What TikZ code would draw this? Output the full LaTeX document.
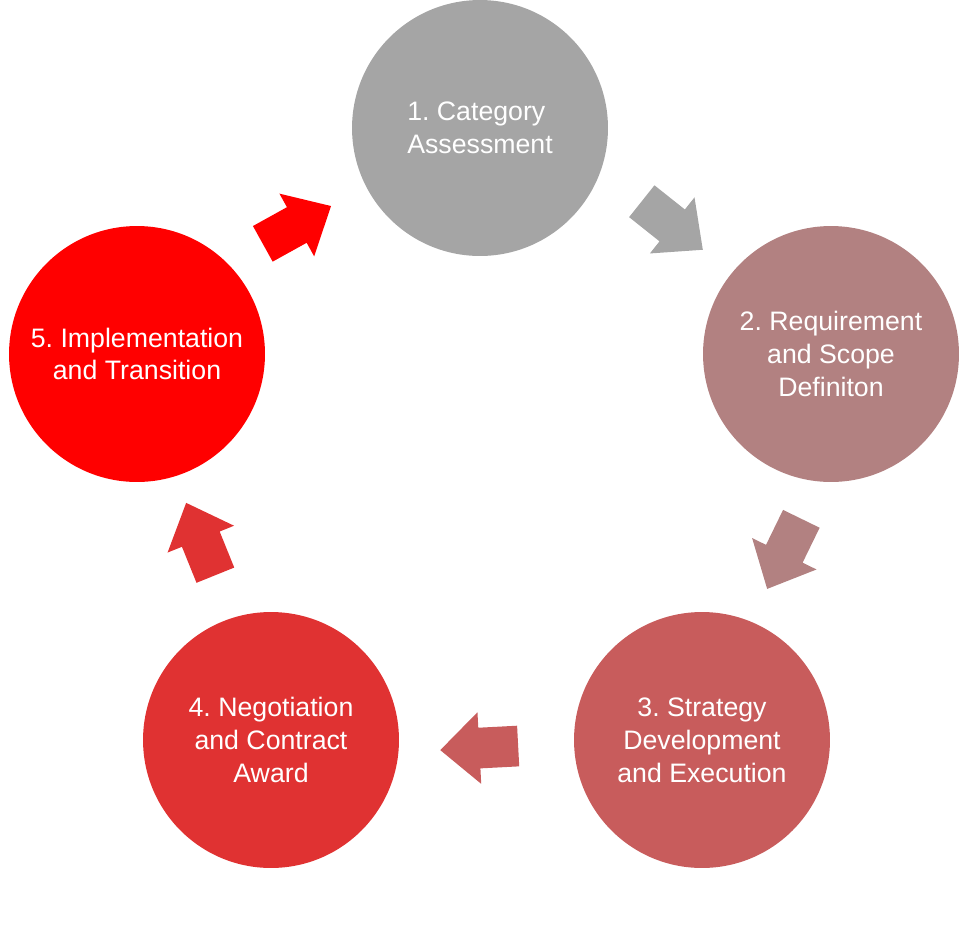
\documentclass[tikz,border=0pt]{standalone}
\usepackage{fontspec}
\setmainfont{Liberation Sans}
\usetikzlibrary{shapes.arrows, positioning}

\definecolor{stepone}{HTML}{A5A5A5}
\definecolor{steptwo}{HTML}{B28181}
\definecolor{stepthree}{HTML}{C85C5C}
\definecolor{stepfour}{HTML}{E03232}
\definecolor{stepfive}{HTML}{FF0000}

\begin{document}
\frenchspacing
\begin{tikzpicture}[
    x=0.02cm, y=-0.02cm,
    stage/.style={circle, fill=#1, minimum size=5.12cm, inner sep=0pt, text=white, align=center, font=\fontsize{15.2}{18.7}\selectfont},
    flow/.style={single arrow, fill=#1, draw=none, anchor=tail, inner xsep=0pt, inner ysep=0.4cm, minimum height=1.56cm, single arrow head extend=0.31cm, single arrow tip angle=85}
]
\useasboundingbox (0,0) rectangle (960,940);

% stages of the cycle
\node[stage=stepone, align=left] (Assessment) at (480,128) {1. Category\\Assessment};
\node[stage=steptwo] (Requirement) at (831,354) {2. Requirement\\and Scope\\Definiton};
\node[stage=stepthree] (Strategy) at (702,740) {3. Strategy\\Development\\and Execution};
\node[stage=stepfour] (Negotiation) at (271,740) {4. Negotiation\\and Contract\\Award};
\node[stage=stepfive] (Implementation) at (137,354) {5. Implementation\\and Transition};

% arrows between the stages (placed by their tails)
\node[flow=stepone, rotate=-38.5] (AssessToReq) at (641.5,201) {};
\node[flow=steptwo, rotate=-116] (ReqToStrat) at (801.5,518.5) {};
\node[flow=stepthree, rotate=183] (StratToNeg) at (518.5,746) {};
\node[flow=stepfour, rotate=112] (NegToImpl) at (215.5,575.5) {};
\node[flow=stepfive, rotate=29] (ImplToAssess) at (262.5,244) {};

\end{tikzpicture}
\end{document}
